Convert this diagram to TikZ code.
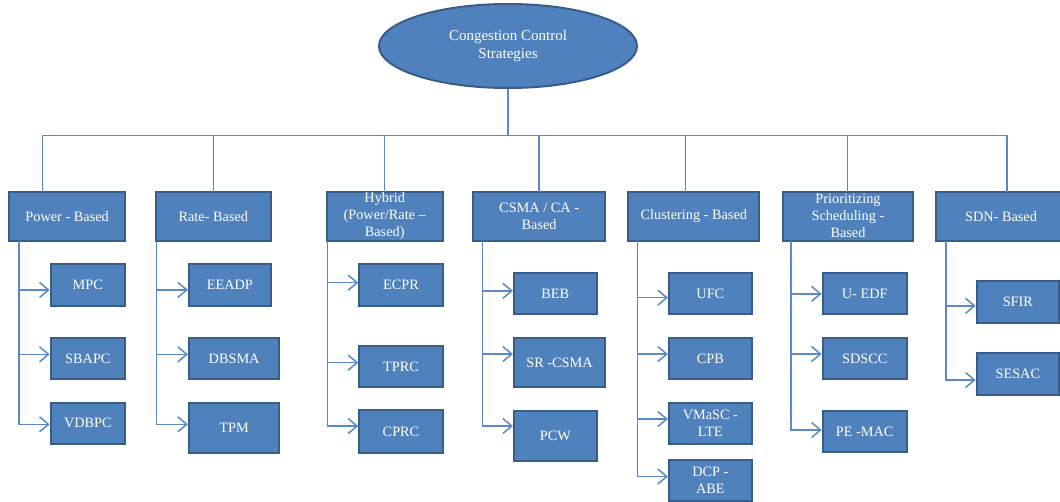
\documentclass[tikz,border=0pt]{standalone}
\usepackage{fontspec}
\setmainfont{Liberation Serif}
\usetikzlibrary{shapes.geometric,arrows.meta}
\definecolor{boxfill}{HTML}{4F81BD}
\definecolor{boxline}{HTML}{385D8A}
\definecolor{conncol}{HTML}{5A8AC6}
\tikzset{
  box/.style={draw=boxline, fill=boxfill, line width=2pt, inner sep=0pt,
    text=white, align=center, font=\fontsize{14.3}{17}\selectfont},
  root/.style={ellipse, draw=boxline, fill=boxfill, line width=2pt, inner sep=0pt,
    text=white, align=center, font=\fontsize{15}{18.5}\selectfont},
  conn/.style={draw=conncol, line width=1.5pt},
  arr/.style={conn, -{Straight Barb[length=9pt,width=15pt,line width=1.5pt]}}
}
\newcommand\bx[6]{\node[box, minimum width={(#3-#2)*1pt}, minimum height={(#5-#4)*1pt}] (#1) at ({(#2+#3)/2},{(#4+#5)/2}) {#6};}
\begin{document}
\begin{tikzpicture}[x=1pt,y=-1pt]
\clip (0,0) rectangle (1060,501);
\fill[white] (0,0) rectangle (1060,501);
% root
\node[root, minimum width=258pt, minimum height=84pt] (root) at (508,46) {Congestion Control\\Strategies};
% categories
\bx{c1}{9.3}{125}{191.7}{240.7}{Power - Based}
\bx{c2}{156}{270.7}{191.7}{240.7}{Rate- Based}
\bx{c3}{326.7}{442.7}{191.7}{240.7}{Hybrid\\(Power/Rate –\\Based)}
\bx{c4}{473.3}{605}{191.7}{240.7}{CSMA / CA -\\Based}
\bx{c5}{628.3}{759.3}{191.7}{240.7}{Clustering - Based}
\bx{c6}{782.7}{913.3}{191.7}{240.7}{Prioritizing\\Scheduling -\\Based}
\bx{c7}{936}{1066}{191.7}{240.7}{SDN- Based}
% sub items
\bx{p1}{50.7}{125}{264.3}{306}{MPC}
\bx{p2}{50.7}{125}{337.7}{379}{SBAPC}
\bx{p3}{50.7}{125}{402.7}{444}{VDBPC}
\bx{r1}{189}{270.7}{264.3}{306}{EEADP}
\bx{r2}{189}{279.3}{337.7}{379}{DBSMA}
\bx{r3}{189}{279.3}{402.7}{452.7}{TPM}
\bx{h1}{359.3}{442.7}{264}{306}{ECPR}
\bx{h2}{359.3}{442.7}{346}{387.3}{TPRC}
\bx{h3}{359.3}{442.7}{410}{452.7}{CPRC}
\bx{s1}{514}{596.7}{273.3}{314.3}{BEB}
\bx{s2}{514}{605}{338.3}{387.3}{SR -CSMA}
\bx{s3}{514}{596.7}{410.7}{460.7}{PCW}
\bx{k1}{669}{751.7}{273.3}{314.3}{UFC}
\bx{k2}{669}{751.7}{338.3}{379}{CPB}
\bx{k3}{669}{751.7}{403.3}{444}{VMaSC -\\LTE}
\bx{k4}{669}{751.7}{460}{501}{DCP -\\ABE}
\bx{q1}{822.7}{906.7}{273.3}{314.3}{U- EDF}
\bx{q2}{822.7}{906.7}{338.3}{379}{SDSCC}
\bx{q3}{822.7}{906.7}{410.7}{452.3}{PE -MAC}
\bx{d1}{976.7}{1059}{281}{322.7}{SFIR}
\bx{d2}{976.7}{1059}{353}{395}{SESAC}
% bus
\coordinate (bus) at (root.south |- 0,135.5);
\draw[conn] (root.south) -- (bus);
\coordinate (t1) at (42.7,191.7);
\coordinate (t2) at (213.3,191.7);
\coordinate (t3) at (384.3,191.7);
\coordinate (t4) at (539,191.7);
\coordinate (t5) at (685.7,191.7);
\coordinate (t6) at (847.7,191.7);
\coordinate (t7) at (1007,191.7);
\foreach \t in {t1,t2,t3,t4,t5,t6,t7}{\draw[conn] (bus) -| (\t);}
% sub lines
\coordinate (b1) at (19,240.7);
\coordinate (b2) at (156.7,240.7);
\coordinate (b3) at (327.7,240.7);
\coordinate (b4) at (482.7,240.7);
\coordinate (b5) at (637.7,240.7);
\coordinate (b6) at (791,240.7);
\coordinate (b7) at (946,240.7);
\draw[arr] (b1) |- ([yshift=-4.8pt]p1.west);
\draw[arr] (b1) |- ([yshift=4pt]p2.west);
\draw[arr] (b1) |- ([yshift=-1pt]p3.west);
\draw[arr] (b2) |- ([yshift=-4.8pt]r1.west);
\draw[arr] (b2) |- ([yshift=4pt]r2.west);
\draw[arr] (b2) |- ([yshift=3.4pt]r3.west);
\draw[arr] (b3) |- ([yshift=2.3pt]h1.west);
\draw[arr] (b3) |- ([yshift=4pt]h2.west);
\draw[arr] (b3) |- ([yshift=5.3pt]h3.west);
\draw[arr] (b4) |- ([yshift=3pt]s1.west);
\draw[arr] (b4) |- ([yshift=8.8pt]s2.west);
\draw[arr] (b4) |- ([yshift=9.7pt]s3.west);
\draw[arr] (b5) |- ([yshift=-3.9pt]k1.west);
\draw[arr] (b5) |- ([yshift=4.6pt]k2.west);
\draw[arr] (b5) |- ([yshift=4.6pt]k3.west);
\draw[arr] (b5) |- ([yshift=4pt]k4.west);
\draw[arr] (b6) |- ([yshift=0pt]q1.west);
\draw[arr] (b6) |- ([yshift=4.6pt]q2.west);
\draw[arr] (b6) |- ([yshift=1.5pt]q3.west);
\draw[arr] (b7) |- ([yshift=-4pt]d1.west);
\draw[arr] (b7) |- ([yshift=-6pt]d2.west);
\end{tikzpicture}
\end{document}
